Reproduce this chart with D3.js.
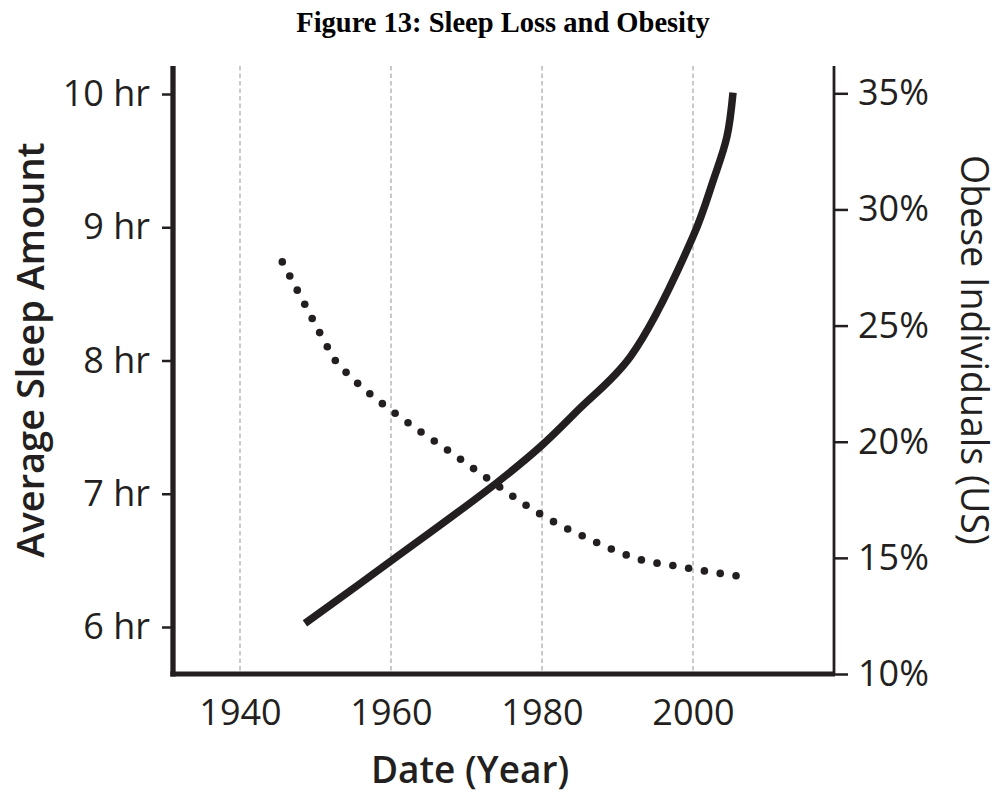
<!DOCTYPE html>
<html>
<head>
<meta charset="utf-8">
<script src="https://cdn.jsdelivr.net/npm/d3@7/dist/d3.min.js"></script>
<style>
  html, body { margin: 0; padding: 0; background: #fff; }
  svg { display: block; }
</style>
</head>
<body>
<svg id="chart" width="1001" height="794"></svg>
<script>
// ---- Data ----
const xTicks = [1940, 1960, 1980, 2000];
const sleepTicks = [6, 7, 8, 9, 10];
const obeseTicks = [10, 15, 20, 25, 30, 35];

// Average sleep amount (hours) – dotted line, left axis
const sleepYears = [1945.6, 1948.5, 1951.5, 1952.5, 1953.9, 1957.0, 1960.4, 1963.8, 1967.3, 1970.9, 1974.4, 1978.0, 1981.7, 1985.5, 1989.4, 1993.4, 1997.5, 2001.6, 2005.7];
const sleepHours = [8.74, 8.43, 8.11, 8.01, 7.92, 7.76, 7.61, 7.47, 7.335, 7.19, 7.05, 6.91, 6.785, 6.68, 6.58, 6.50, 6.46, 6.42, 6.385];

// Obese individuals (US, %) – solid line, right axis
const obeseYears = [1948.6, 1959.9, 1974.0, 1979.9, 1984.8, 1991.7, 2000.0, 2002.7, 2004.5, 2005.3];
const obesePct = [12.18, 14.84, 18.23, 19.82, 21.37, 23.66, 28.83, 31.27, 33.14, 35.03];

// ---- Layout ----
const ink = "#231f20";
const plotLeft = 173, plotRight = 834, plotTop = 66, plotBottom = 674;
const fontFam = "'Open Sans', 'Noto Sans', sans-serif";

const svg = d3.select("#chart");

const x = d3.scaleLinear().domain([1940, 2000]).range([240, 693]);
const yL = d3.scaleLinear().domain([6, 10]).range([627, 94]);
const yR = d3.scaleLinear().domain([10, 35]).range([674, 93.3]);

// Title
svg.append("text")
  .attr("x", 503).attr("y", 32)
  .attr("text-anchor", "middle")
  .attr("font-family", "'Liberation Serif', 'Times New Roman', serif")
  .attr("font-weight", "bold")
  .attr("font-size", 28.5)
  .attr("fill", "#000")
  .text("Figure 13: Sleep Loss and Obesity");

// Gridlines
svg.append("g").selectAll("line").data(xTicks).join("line")
  .attr("x1", d => x(d)).attr("x2", d => x(d))
  .attr("y1", plotTop).attr("y2", plotBottom - 2)
  .attr("stroke", "#b8b8b8").attr("stroke-width", 1.5)
  .attr("stroke-dasharray", "4.5,3");

// Left axis
const gL = svg.append("g").attr("transform", `translate(${plotLeft},0)`)
  .call(d3.axisLeft(yL).tickValues(sleepTicks).tickFormat(d => d + " hr").tickSize(11).tickPadding(12));
gL.select(".domain").remove();
gL.selectAll(".tick line").attr("stroke", ink).attr("stroke-width", 2.5);
gL.selectAll(".tick text").attr("font-family", fontFam).attr("font-size", 36).attr("fill", ink);

// Right axis
const gR = svg.append("g").attr("transform", `translate(${plotRight},0)`)
  .call(d3.axisRight(yR).tickValues(obeseTicks).tickFormat(d => d + "%").tickSize(14).tickPadding(10));
gR.select(".domain").remove();
gR.selectAll(".tick line").attr("stroke", ink).attr("stroke-width", 2.5);
gR.selectAll(".tick text").attr("font-family", fontFam).attr("font-size", 36).attr("fill", ink);

// Bottom axis labels
const gB = svg.append("g").attr("transform", `translate(0,${plotBottom})`)
  .call(d3.axisBottom(x).tickValues(xTicks).tickFormat(d3.format("d")).tickSize(0));
gB.select(".domain").remove();
gB.selectAll(".tick text").attr("y", 51).attr("dy", null)
  .attr("font-family", fontFam).attr("font-size", 36).attr("fill", ink);

// Axis lines
svg.append("line").attr("x1", plotLeft).attr("x2", plotLeft).attr("y1", plotTop).attr("y2", plotBottom + 2.5)
  .attr("stroke", ink).attr("stroke-width", 5.3);
svg.append("line").attr("x1", plotLeft - 2.6).attr("x2", plotRight + 1).attr("y1", plotBottom).attr("y2", plotBottom)
  .attr("stroke", ink).attr("stroke-width", 5);
svg.append("line").attr("x1", plotRight).attr("x2", plotRight).attr("y1", plotTop).attr("y2", plotBottom)
  .attr("stroke", ink).attr("stroke-width", 2.8);

// Sleep dotted line: dots spaced evenly along the curve through the data
const sleepData = sleepYears.map((yr, i) => [yr, sleepHours[i]]);
const sleepPath = svg.append("path")
  .datum(sleepData)
  .attr("d", d3.line().x(d => x(d[0])).y(d => yL(d[1])).curve(d3.curveMonotoneX))
  .attr("fill", "none").attr("stroke", "none");
const L = sleepPath.node().getTotalLength();
const nGaps = Math.round(L / 16);
const dotPts = d3.range(nGaps + 1).map(i => sleepPath.node().getPointAtLength(Math.min(L, i * L / nGaps)));
svg.append("g").selectAll("circle").data(dotPts).join("circle")
  .attr("cx", p => p.x).attr("cy", p => p.y).attr("r", 3.8).attr("fill", ink);

// Obesity solid line
const obeseData = obeseYears.map((yr, i) => [yr, obesePct[i]]);
svg.append("path")
  .datum(obeseData)
  .attr("d", d3.line().x(d => x(d[0])).y(d => yR(d[1])).curve(d3.curveCatmullRom.alpha(0.5)))
  .attr("fill", "none").attr("stroke", ink)
  .attr("stroke-width", 7.5).attr("stroke-linecap", "butt");

// Axis titles
svg.append("text")
  .attr("transform", "translate(44,350) rotate(-90)")
  .attr("text-anchor", "middle")
  .attr("font-family", fontFam).attr("font-weight", 600).attr("font-size", 38)
  .attr("fill", ink)
  .text("Average Sleep Amount");

svg.append("text")
  .attr("transform", "translate(961,350) rotate(90)")
  .attr("text-anchor", "middle")
  .attr("font-family", fontFam).attr("font-weight", 400).attr("font-size", 37.5)
  .attr("fill", ink)
  .text("Obese Individuals (US)");

svg.append("text")
  .attr("x", 470).attr("y", 783)
  .attr("text-anchor", "middle")
  .attr("font-family", fontFam).attr("font-weight", 600).attr("font-size", 37)
  .attr("fill", ink)
  .text("Date (Year)");
</script>
</body>
</html>
